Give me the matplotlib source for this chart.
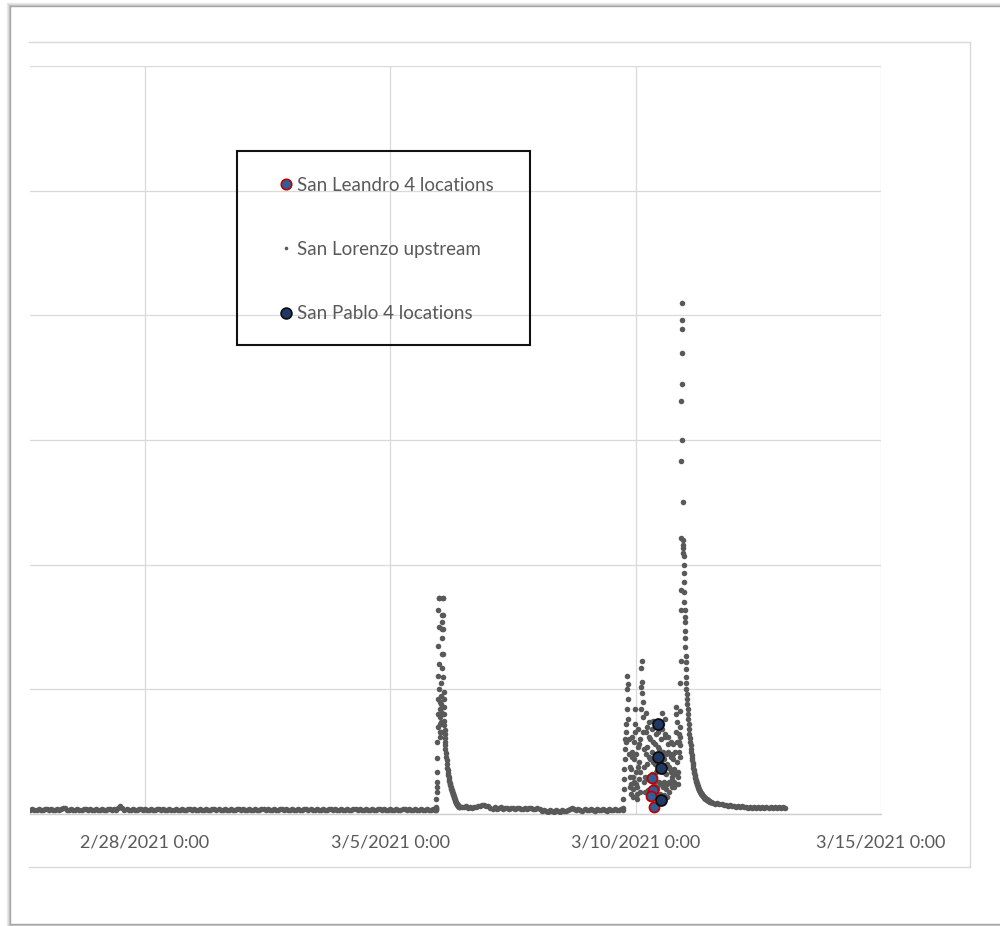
"""
San Lorenzo 流量と採水点の散布図 (Excel 風の再現)
"""

from datetime import datetime
import pandas as pd
import matplotlib
matplotlib.use("Agg")
import matplotlib.pyplot as plt
import matplotlib.dates as mdates
from matplotlib.lines import Line2D
from matplotlib.patches import Rectangle
from matplotlib.ticker import FuncFormatter

plt.rcParams['font.family'] = ['Lato', 'DejaVu Sans']

# --- San Lorenzo upstream (区間ごと: 開始時刻, 間隔[分], 値) ---
lorenzo_base1 = [
    3.0, 4.2, 3.6, 3.2, 4.4, 3.4, 3.0, 4.2, 3.8, 3.2,
    4.2, 3.4, 3.0, 4.4, 3.6, 4.4, 5.2, 4.6, 3.4, 3.0,
    4.2, 3.6, 3.2, 4.4, 3.4, 3.0, 4.2, 3.8, 3.2, 4.2,
    3.4, 3.0, 4.4, 3.6, 3.2, 4.2, 3.4, 3.0, 4.4, 3.8,
    3.2, 4.2, 3.4, 5.0, 6.6, 5.0, 3.2, 4.2, 3.6, 3.0,
    4.4, 3.4, 3.2, 4.2, 3.8, 3.0, 4.4, 3.6, 3.2, 4.2,
    3.4, 3.0, 4.2, 3.8, 3.2, 4.4, 3.4, 3.0, 4.2, 3.6,
    3.2, 4.4, 3.6, 3.0, 4.2, 3.4, 3.2, 4.4, 3.8, 3.0,
    4.2, 3.6, 3.2, 4.2, 3.4, 3.0, 4.4, 3.6, 3.2, 4.2,
    3.8, 3.0, 4.4, 3.4, 3.2, 4.2, 3.6, 3.0, 4.4, 3.4,
    3.2, 4.2, 3.8, 3.0, 4.2, 3.6, 3.2, 4.4, 3.4, 3.0,
    4.2, 3.6, 3.2, 4.4, 3.8, 3.0, 4.2, 3.4, 3.2, 4.4,
    3.6, 3.0, 4.2, 3.8, 3.2, 4.2, 3.4, 3.0, 4.4, 3.6,
    3.2, 4.2, 3.4, 3.0, 4.4, 3.8, 3.2, 4.2, 3.6, 3.0,
    4.4, 3.4, 3.2, 4.2, 3.6, 3.0, 4.4, 3.8, 3.2, 4.2,
    3.4, 3.0, 4.2, 3.6, 3.2, 4.4, 3.4, 3.0, 4.2, 3.8,
    3.2, 4.4, 3.6, 3.0, 4.2, 3.4, 3.2, 4.4, 3.6, 3.0,
    4.2, 3.8, 3.2, 4.2, 3.4, 3.0, 4.4, 3.6, 3.2, 4.2,
    3.4, 3.0, 4.4, 3.8, 3.2, 4.2, 3.6, 3.0, 4.4, 3.4,
    3.2, 4.2, 3.6, 3.0, 4.4, 3.4, 3.2, 4.2, 3.6,
]
lorenzo_storm1 = [
    3.6, 3.8, 4.2, 5.0, 6.0, 12, 18, 22, 26, 34,
    45, 58, 70, 80, 92, 111, 135, 164, 173, 173,
    150, 120, 100, 90, 84, 78, 72, 66, 62, 66,
    74, 82, 88, 95, 105, 117, 128, 141, 148, 154,
    160, 173, 173, 160, 148, 128, 110, 98, 92, 86,
    80, 75, 71, 67, 64, 61, 58, 55, 52,
]
lorenzo_recess1 = [
    49, 46, 43, 40, 37, 35,
    33, 31, 29.5, 28, 26.5, 25,
    24, 23, 22, 21, 20, 19,
    18.2, 17.4, 16.6, 16, 15.2, 14.6,
    13.8, 13, 12.2, 11.4, 10.6, 9.8,
    9.2, 8.7, 8.2, 7.8, 7.4, 7.0,
    6.7, 6.4, 6.2, 6.0, 5.9, 5.8,
]
lorenzo_base2 = [
    6.0, 5.4, 6.2, 5.2, 5.8, 5.0, 5.6, 5.8, 6.4, 6.8, 7.2, 7.4, 6.8, 6.2,
    5.2, 4.2, 5.4, 4.4, 4.8, 5.4, 4.0, 4.6, 5.2, 4.2, 4.8, 5.2, 4.0,
    4.6, 5.0, 4.0, 4.4, 5.0, 3.8, 4.6, 5.0, 3.8, 4.2, 4.8, 3.8,
    2.2, 3.2, 2.6, 1.8, 3.0, 2.4, 2.0, 3.2, 2.6, 1.8, 3.0, 2.4, 2.2, 3.2,
    4.0, 5.0, 4.2,
    3.0, 4.2, 3.6, 2.8, 4.2, 3.4, 3.0, 4.4, 3.6, 2.8, 4.2, 3.4,
    3.0, 4.2, 3.6, 2.8, 4.4, 3.4, 3.0, 4.2, 3.6, 3.0, 4.0,
]
lorenzo_storm2 = [
    3.4, 5, 12, 20, 28, 36,
    44, 52, 60, 72, 58, 66,
    84, 100, 111, 104, 92, 76,
    60, 48, 38, 30, 22, 16,
    24, 36, 50, 62, 46, 30,
    20, 14, 26, 44, 58, 72,
    84, 66, 48, 34, 24, 16,
    12, 22, 38, 54, 68, 56,
    42, 28, 18, 34, 60, 84,
    102, 117, 123, 106, 97, 90,
    78, 66, 52, 38, 26, 18,
    30, 48, 66, 81, 70, 54,
    40, 28, 19, 30, 46, 62,
    74, 60, 44, 30, 20, 12,
    18, 32, 50, 68, 75, 58,
    42, 28, 16, 24, 40, 56,
    70, 64, 48, 34, 22, 14,
    20, 36, 54, 66, 52, 38,
    26, 16, 12, 24, 42, 60,
    72, 81, 68, 50, 34, 22,
    15, 26, 44, 62, 76, 64,
    48, 32, 20, 14, 24, 40,
    56, 62, 50, 38, 26, 18,
    25, 36, 48, 58, 46, 34,
    27, 22, 30, 44, 56, 48,
    36, 26, 22, 32, 50, 66,
    80, 86, 74, 58, 42, 30,
    24, 34, 50, 64, 58, 46,
]
lorenzo_peak = [
    55, 62, 70, 83, 105, 123, 164, 180, 221, 283,
    331, 345, 389, 410, 396, 370, 300, 250, 220, 216,
    213, 209, 207, 200, 193, 186, 178, 170, 164, 158,
    154, 147, 141, 134, 127, 122, 116, 110, 105,
]
lorenzo_recess2 = [
    100, 96, 92, 88, 84, 80,
    76, 72, 68, 64, 61, 58,
    55, 52, 49.5, 47, 45, 43,
    41, 39, 37, 35.5, 34, 32.5,
    31, 30, 28.8, 27.6, 26.5, 25.5,
    24.6, 23.8, 23, 22.2, 21.5, 20.8,
    20.2, 19.6, 19, 18.5, 18, 17.5,
    17, 16.6, 16.2, 15.8, 15.4, 15,
    14.7, 14.4, 14.1, 13.8, 13.5, 13.2,
    13, 12.7, 12.4, 12.2, 12, 11.8,
    11.6, 11.4, 11.2, 11, 10.8, 10.6,
    10.4, 10.2, 10, 9.9, 9.8, 9.7,
    9.6,
]
lorenzo_tail = [
    9.2, 8.4, 8.6, 7.8, 8.0, 7.2, 7.4, 6.6, 7.0, 6.2,
    6.6, 5.8, 6.4, 5.6, 6.2, 5.4, 6.0, 5.2, 5.8, 5.0,
    5.8, 5.0, 5.6, 4.8, 5.6, 4.8, 5.4, 4.6, 5.4, 4.6,
    5.6, 4.8, 5.8, 5.0, 5.6, 4.8,
]

lorenzo_segments = [
    ("2021-02-25 16:00", 60, lorenzo_base1),
    ("2021-03-05 22:10", 5, lorenzo_storm1),
    ("2021-03-06 03:10", 10, lorenzo_recess1),
    ("2021-03-06 11:00", 60, lorenzo_base2),
    ("2021-03-09 17:40", 10, lorenzo_storm2),
    ("2021-03-10 21:35", 5, lorenzo_peak),
    ("2021-03-11 00:50", 10, lorenzo_recess2),
    ("2021-03-11 14:00", 60, lorenzo_tail),
]

# --- 採水点 ---
leandro_times = ["2021-03-10 07:58", "2021-03-10 08:27", "2021-03-10 07:40", "2021-03-10 08:57"]
leandro_values = [28.6, 19.2, 14.7, 5.9]
pablo_times = ["2021-03-10 11:05", "2021-03-10 10:54", "2021-03-10 12:22", "2021-03-10 12:13"]
pablo_values = [72.2, 45.5, 36.9, 11.0]

x_ticks = ["2021-02-28", "2021-03-05", "2021-03-10", "2021-03-15"]
y_ticks = [0, 100, 200, 300, 400, 500, 600]

# 区間をつなげて1本の時系列にする
lor_t, lor_v = [], []
for start, step, vals in lorenzo_segments:
    lor_t.extend(pd.date_range(start, periods=len(vals), freq=f"{step}min"))
    lor_v.extend(vals)

W, H = 1000, 926
fig = plt.figure(figsize=(W / 100, H / 100), dpi=100)


def fx(px):
    return px / W


def fy(py):
    return 1 - py / H


# ページの枠と影
for off, col in [(3, '#ececec'), (2, '#dedede'), (1, '#c8c8c8'), (0, '#a6a6a6')]:
    fig.add_artist(Line2D([fx(10 - off), fx(10 - off)], [fy(6 - off), fy(924 + off)], color=col, lw=1))
    fig.add_artist(Line2D([fx(10 - off), fx(1000)], [fy(6 - off), fy(6 - off)], color=col, lw=1))
    fig.add_artist(Line2D([fx(10 - off), fx(1000)], [fy(924 + off), fy(924 + off)], color=col, lw=1))

# グラフエリアの枠
box_col = '#d9d9d9'
fig.add_artist(Line2D([fx(29), fx(970)], [fy(42), fy(42)], color=box_col, lw=1))
fig.add_artist(Line2D([fx(29), fx(970)], [fy(867), fy(867)], color=box_col, lw=1))
fig.add_artist(Line2D([fx(970), fx(970)], [fy(42), fy(867)], color=box_col, lw=1))

ax = fig.add_axes([fx(30), fy(814), fx(881) - fx(30), fy(66) - fy(814)])

ax.scatter(lor_t, lor_v, s=16, color='#595959', linewidths=0, zorder=3)
ax.scatter(pd.to_datetime(leandro_times), leandro_values, s=52, color='#2f5f9a',
           edgecolors='#c00000', linewidths=1.3, zorder=4)
ax.scatter(pd.to_datetime(pablo_times), pablo_values, s=62, color='#203864',
           edgecolors='#0d0d0d', linewidths=1.3, zorder=5)

ax.set_xlim(datetime(2021, 2, 25, 15, 48), datetime(2021, 3, 15))
ax.set_ylim(y_ticks[0], y_ticks[-1])
ax.set_xticks(pd.to_datetime(x_ticks))
ax.set_yticks(y_ticks)


def fmt_date(v, pos):
    d = mdates.num2date(v)
    return f"{d.month}/{d.day}/{d.year} {d.hour}:{d.minute:02d}"


ax.xaxis.set_major_formatter(FuncFormatter(fmt_date))
ax.tick_params(axis='x', length=0, pad=15, labelsize=13, labelcolor='#595959')
ax.tick_params(axis='y', length=0, labelleft=False)
ax.grid(True, color='#d9d9d9', lw=0.9)
ax.set_axisbelow(True)
for side in ['top', 'left', 'right']:
    ax.spines[side].set_visible(False)
ax.spines['bottom'].set_color('#cfcfcf')
ax.spines['bottom'].set_linewidth(1)

# 凡例 (枠は別に描く)
handles = [
    Line2D([], [], ls='none', marker='o', ms=7.5, mfc='#2f5f9a', mec='#c00000', mew=1.2),
    Line2D([], [], ls='none', marker='o', ms=2.6, mfc='#595959', mec='#595959', mew=0),
    Line2D([], [], ls='none', marker='o', ms=7.8, mfc='#203864', mec='#0d0d0d', mew=1.2),
]
labels = ["San Leandro 4 locations", "San Lorenzo upstream", "San Pablo 4 locations"]
leg = ax.legend(handles, labels, loc='upper left', bbox_to_anchor=(fx(278), fy(176.7)),
                bbox_transform=fig.transFigure, frameon=False, fontsize=13.5,
                borderpad=0, borderaxespad=0, handlelength=0.8, handletextpad=0.2,
                labelspacing=2.52)
for t in leg.get_texts():
    t.set_color('#595959')

fig.add_artist(Rectangle((fx(237), fy(345)), fx(530) - fx(237), fy(151) - fy(345),
                         transform=fig.transFigure, fill=False, ec='#111111', lw=1.5))

fig.savefig("out.png", dpi=100, facecolor='white')
